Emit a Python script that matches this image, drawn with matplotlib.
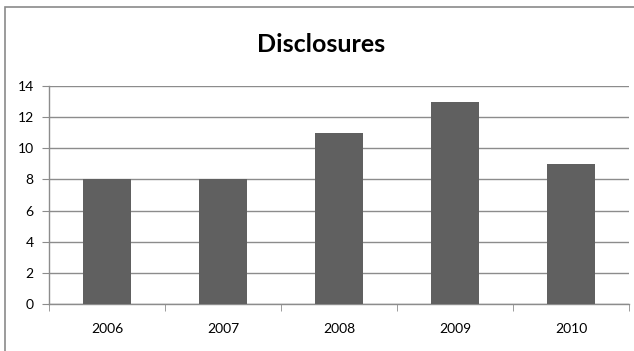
import matplotlib.pyplot as plt
from matplotlib.patches import Rectangle

plt.rcParams['font.family'] = ['Lato', 'DejaVu Sans']

years = ['2006', '2007', '2008', '2009', '2010']
disclosures = [8, 8, 11, 13, 9]

fig = plt.figure(figsize=(6.34, 3.51), dpi=100)

# chart frame, open on the right and bottom edges
fig.patches.append(Rectangle((5 / 634, -0.05), 1.0, 1 - 7 / 351 + 0.05,
                             transform=fig.transFigure, fill=False,
                             edgecolor='#8a8a8a', linewidth=1.2))

ax = fig.add_axes([49 / 634, 1 - 304 / 351, 580 / 634, 218 / 351])

x = range(len(years))
ax.bar(x, disclosures, width=0.41, color='#606060', zorder=3)

ax.set_xlim(-0.5, len(years) - 0.5)
ax.set_ylim(0, 14)
ax.set_yticks(range(0, 15, 2))
ax.set_xticks(x)
ax.set_xticklabels(years)
ax.set_xticks([i + 0.5 for i in range(-1, len(years))], minor=True)

ax.grid(axis='y', color='#8c8c8c', linewidth=1.0, zorder=0)
for side in ['top', 'right']:
    ax.spines[side].set_visible(False)
for side in ['left', 'bottom']:
    ax.spines[side].set_color('#8c8c8c')
    ax.spines[side].set_linewidth(1.0)

ax.tick_params(axis='y', length=5, color='#8c8c8c', labelsize=10, pad=6)
ax.tick_params(axis='x', which='major', length=0, labelsize=10, pad=14)
ax.tick_params(axis='x', which='minor', length=5, color='#8c8c8c')

fig.text(321 / 634, 1 - 44 / 351, 'Disclosures', ha='center', va='center',
         fontsize=18, fontweight='bold')

fig.savefig('out.png', dpi=100)
